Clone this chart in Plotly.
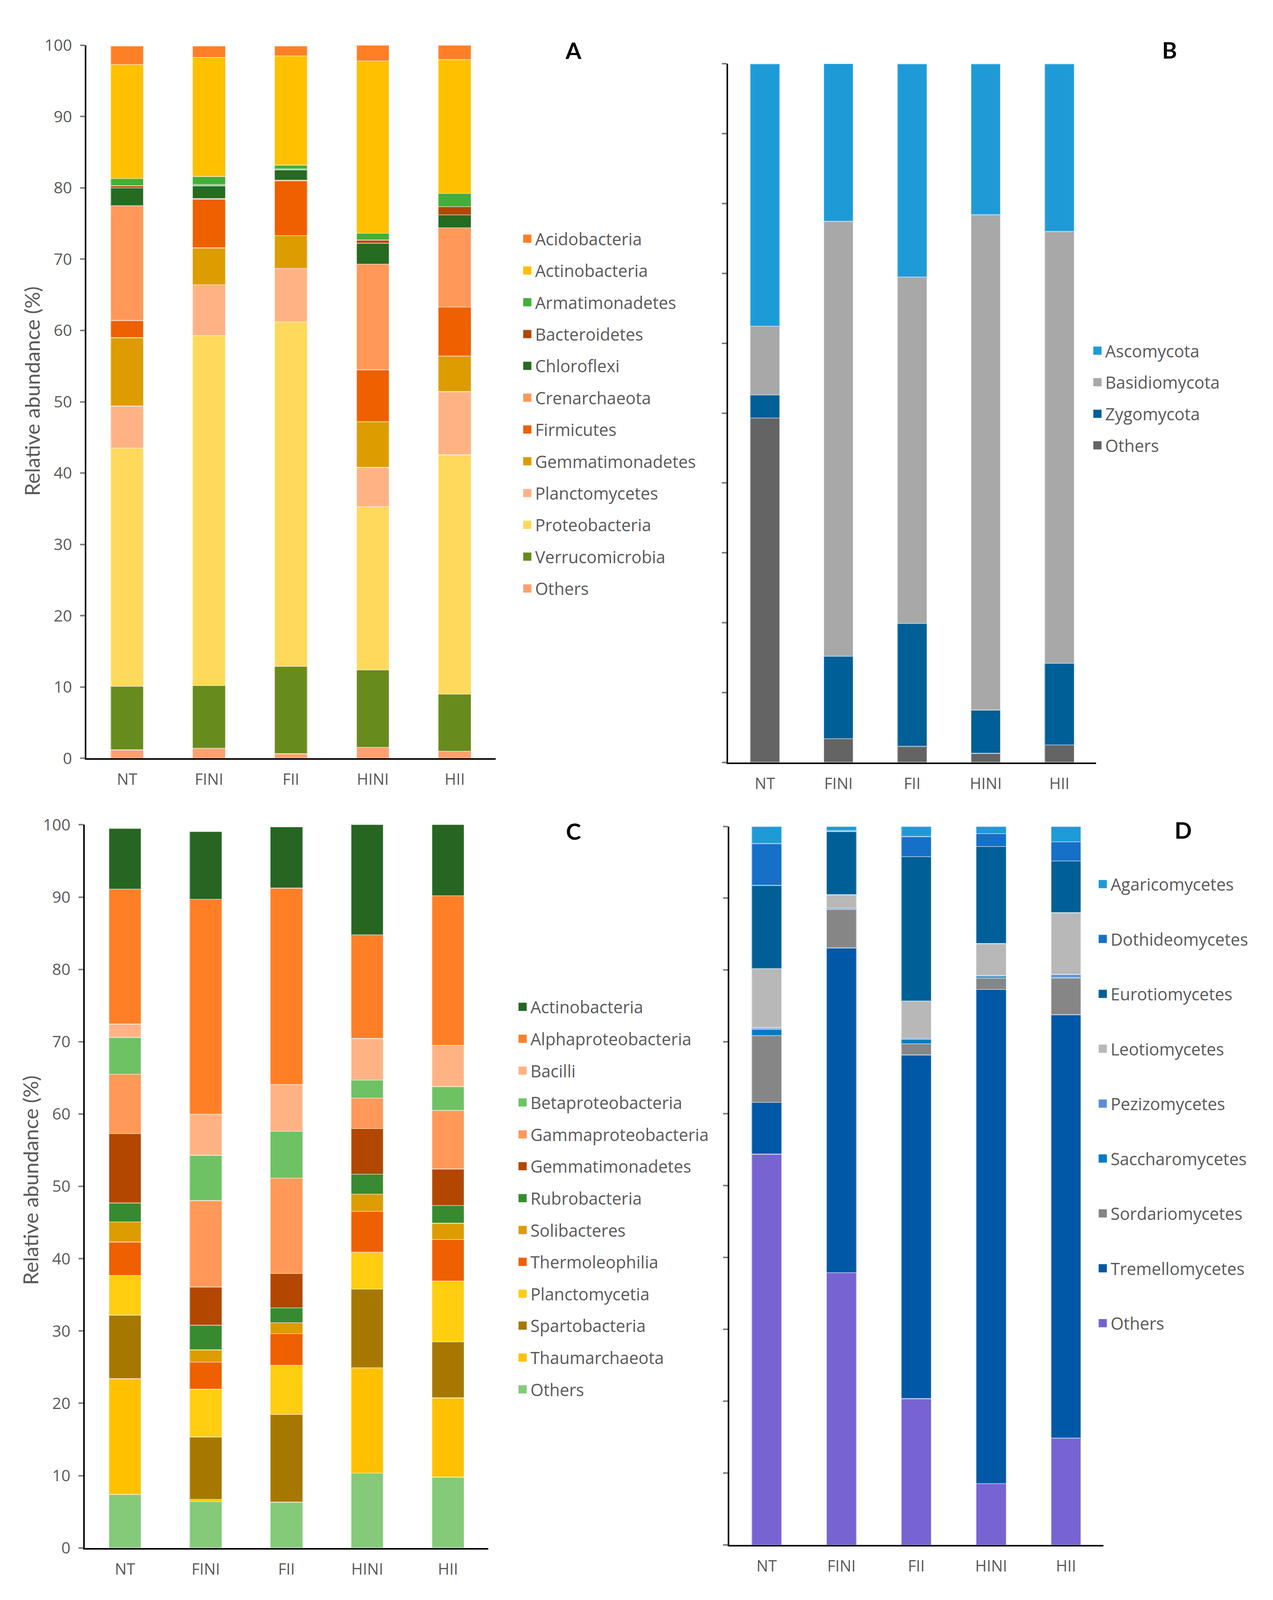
import plotly.graph_objects as go

samples = ["NT", "FINI", "FII", "HINI", "HII"]

# A - bacterial phyla (legend order, top of stack first)
phyla_names = ["Acidobacteria", "Actinobacteria", "Armatimonadetes", "Bacteroidetes",
               "Chloroflexi", "Crenarchaeota", "Firmicutes", "Gemmatimonadetes",
               "Planctomycetes", "Proteobacteria", "Verrucomicrobia", "Others"]
phyla_colors = ["#FF7F27", "#FFC000", "#43AE3A", "#B34700", "#256B21", "#FF9858",
                "#EE6000", "#DD9C00", "#FFB385", "#FFD95C", "#688B1D", "#FFA070"]
phyla_values = [
    [2.6, 1.6, 1.4, 2.2, 2.0],
    [16.0, 16.7, 15.3, 24.15, 18.75],
    [1.0, 1.15, 0.55, 0.95, 1.88],
    [0.3, 0.15, 0.1, 0.45, 1.15],
    [2.5, 1.8, 1.45, 2.94, 1.81],
    [16.1, 0.1, 0.1, 14.8, 11.1],
    [2.4, 6.8, 7.7, 7.3, 6.9],
    [9.6, 5.2, 4.6, 6.4, 4.96],
    [5.9, 7.1, 7.5, 5.5, 8.88],
    [33.4, 49.1, 48.3, 22.9, 33.57],
    [8.9, 8.8, 12.25, 10.85, 7.98],
    [1.2, 1.4, 0.65, 1.55, 1.01],
]

# B - fungal phyla
fphyla_names = ["Ascomycota", "Basidiomycota", "Zygomycota", "Others"]
fphyla_colors = ["#1E9BD7", "#A8A8A8", "#005F96", "#646464"]
fphyla_values = [
    [37.55, 22.57, 30.5, 21.6, 24.0],
    [9.85, 62.26, 49.6, 70.9, 61.8],
    [3.3, 11.8, 17.6, 6.2, 11.7],
    [49.3, 3.4, 2.3, 1.3, 2.5],
]

# C - bacterial classes
class_names = ["Actinobacteria", "Alphaproteobacteria", "Bacilli", "Betaproteobacteria",
               "Gammaproteobacteria", "Gemmatimonadetes", "Rubrobacteria", "Solibacteres",
               "Thermoleophilia", "Planctomycetia", "Spartobacteria", "Thaumarchaeota", "Others"]
class_colors = ["#266622", "#FF7F27", "#FFB385", "#6EC264", "#FF9858", "#B34700", "#388A30",
                "#DD9C00", "#EE6000", "#FFCE10", "#A67800", "#FFC000", "#84CA78"]
class_values = [
    [8.4, 9.34, 8.45, 15.4, 10.1],
    [18.65, 29.74, 27.19, 14.34, 20.7],
    [1.85, 5.66, 6.46, 5.76, 5.7],
    [5.1, 6.26, 6.46, 2.5, 3.3],
    [8.2, 11.94, 13.2, 4.2, 8.1],
    [9.6, 5.3, 4.74, 6.33, 5.03],
    [2.6, 3.4, 2.06, 2.74, 2.47],
    [2.8, 1.7, 1.5, 2.37, 2.23],
    [4.6, 3.75, 4.4, 5.66, 5.77],
    [5.5, 6.59, 6.8, 5.1, 8.4],
    [8.8, 8.66, 12.1, 10.9, 7.74],
    [16.0, 0.3, 0.05, 14.54, 10.96],
    [7.4, 6.4, 6.3, 10.36, 9.8],
]

# D - fungal classes
fclass_names = ["Agaricomycetes", "Dothideomycetes", "Eurotiomycetes", "Leotiomycetes",
                "Pezizomycetes", "Saccharomycetes", "Sordariomycetes", "Tremellomycetes", "Others"]
fclass_colors = ["#1E9BD7", "#1670C8", "#005F96", "#B8B8B8", "#5A8ED8", "#007AC3",
                 "#868686", "#0058A6", "#7763D2"]
fclass_values = [
    [2.4, 0.6, 1.4, 1.0, 2.15],
    [5.8, 0.1, 2.8, 1.8, 2.65],
    [11.6, 8.8, 20.1, 13.5, 7.2],
    [8.2, 1.9, 5.2, 4.45, 8.6],
    [0.2, 0.15, 0.15, 0.1, 0.4],
    [0.9, 0.0, 0.6, 0.25, 0.1],
    [9.3, 5.35, 1.55, 1.6, 5.1],
    [7.2, 45.2, 47.83, 68.77, 58.94],
    [54.4, 37.9, 20.37, 8.53, 14.86],
]

FONT = "Open Sans"
TXT = "#595959"
W, H = 3240, 4090   # kept under the window so the bottom labels are not cut

fig = go.Figure()

panels = [
    (phyla_names, phyla_colors, phyla_values, "x", "y", "legend"),
    (fphyla_names, fphyla_colors, fphyla_values, "x2", "y2", "legend2"),
    (class_names, class_colors, class_values, "x3", "y3", "legend3"),
    (fclass_names, fclass_colors, fclass_values, "x4", "y4", "legend4"),
]

for names, colors, values, xa, ya, leg in panels:
    # stack from the bottom: last legend entry first
    for name, col, vals in reversed(list(zip(names, colors, values))):
        fig.add_trace(go.Bar(
            x=samples, y=vals, name=name, xaxis=xa, yaxis=ya,
            marker=dict(color=col, line=dict(color="rgba(255,255,255,0.45)", width=2.5)),
            showlegend=False,
        ))
    # legend-only markers (bigger squares than the bar legend icon)
    for name, col in zip(names, colors):
        fig.add_trace(go.Scatter(
            x=[None], y=[None], xaxis=xa, yaxis=ya, mode="markers", name=name,
            marker=dict(symbol="square", size=16, color=col, line=dict(color=col, width=5)),
            legend=leg, legendgroup=leg + name, hoverinfo="skip",
        ))


def x_ax(domain, anchor):
    return dict(domain=domain, anchor=anchor, type="category", range=[-0.5, 4.5],
                showline=True, linecolor="black", linewidth=4, ticks="",
                showgrid=False, zeroline=False, ticklabelstandoff=16,
                tickfont=dict(family=FONT, size=40, color=TXT))


def y_ax(domain, anchor, labels):
    return dict(domain=domain, anchor=anchor, range=[0, 100], tick0=0, dtick=10,
                showline=True, linecolor="black", linewidth=4,
                ticks="outside", ticklen=12, tickwidth=4, tickcolor="#7F7F7F",
                showgrid=False, zeroline=False, showticklabels=labels,
                ticklabelstandoff=12, tickfont=dict(family=FONT, size=41, color=TXT))


def legend_box(x, y, size, gap):
    return dict(x=x, y=y, xanchor="left", yanchor="top", bgcolor="rgba(0,0,0,0)",
                font=dict(family=FONT, size=size, color=TXT), tracegroupgap=gap,
                traceorder="grouped")


fig.update_layout(
    width=W, height=H,
    margin=dict(l=0, r=0, t=0, b=0),
    paper_bgcolor="white", plot_bgcolor="white",
    barmode="stack", bargap=0.6,
    xaxis=x_ax([0.0656, 0.3892], "y"),
    yaxis=y_ax([0.5282, 0.9807], "x", True),
    xaxis2=x_ax([0.5728, 0.8637], "y2"),
    yaxis2=y_ax([0.5256, 0.9689], "x2", False),
    xaxis3=x_ax([0.0644, 0.3834], "y3"),
    yaxis3=y_ax([0.0271, 0.4860], "x3", True),
    xaxis4=x_ax([0.5737, 0.8694], "y4"),
    yaxis4=y_ax([0.0290, 0.4850], "x4", False),
    legend=legend_box(0.408, 0.8665, 43, 22.5),
    legend2=legend_box(0.8585, 0.7954, 43, 21.8),
    legend3=legend_box(0.4043, 0.379, 43, 22.7),
    legend4=legend_box(0.8627, 0.4569, 43, 81.6),
)

for txt, x, y in [("A", 0.4507, 0.9776), ("B", 0.9215, 0.9779),
                  ("C", 0.4507, 0.4820), ("D", 0.9325, 0.4828)]:
    fig.add_annotation(text="<b>" + txt + "</b>", x=x, y=y, xref="paper", yref="paper",
                       xanchor="center", yanchor="middle", showarrow=False,
                       font=dict(family="Lato", size=58, color="black"))

for x, y in [(0.0227, 0.7612), (0.0212, 0.2605)]:
    fig.add_annotation(text="Relative abundance (%)", x=x, y=y, xref="paper", yref="paper",
                       xanchor="center", yanchor="middle", showarrow=False, textangle=-90,
                       font=dict(family="Lato", size=53, color=TXT))

fig.write_html("out.html")
